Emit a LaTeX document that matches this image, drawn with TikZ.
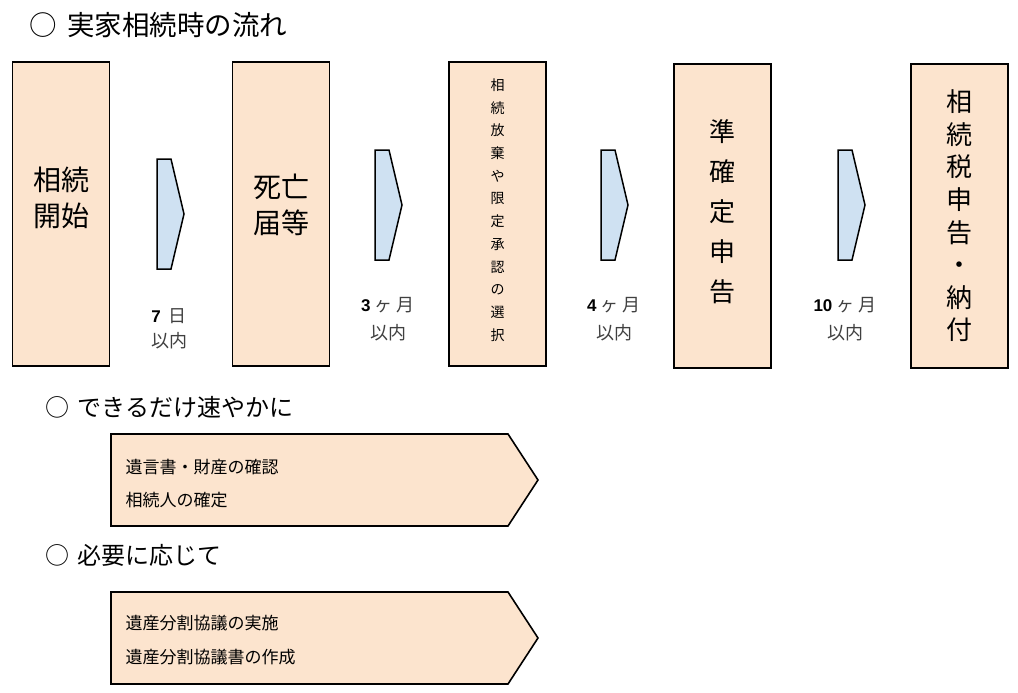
\documentclass[tikz,border=0pt]{standalone}
\usepackage{fontspec}
\setmainfont{Liberation Sans}
\newfontfamily\jp{Noto Sans CJK JP}
\usetikzlibrary{positioning}

\definecolor{peach}{HTML}{FCE4CE}
\definecolor{paleblue}{HTML}{CFE1F2}

\tikzset{
    stage/.style={draw, line width=1.6pt, fill=peach, minimum width=97pt, minimum height=304pt, inner sep=0pt},
    bigtxt/.style={font=\jp\fontsize{28}{36}\selectfont, align=center},
    tallTxt/.style={font=\jp\fontsize{26}{34}\selectfont, align=center},
    smalltxt/.style={font=\jp\fontsize{14}{22.7}\selectfont, align=center},
    period/.style={font=\jp\fontsize{18}{28}\selectfont, align=center, text=black!75},
    heading/.style={font=\jp\fontsize{24}{26}\selectfont, anchor=west},
    todo/.style={draw, line width=1.6pt, fill=peach},
    todotxt/.style={font=\jp\fontsize{17}{20}\selectfont, anchor=west},
    wait/.style={draw, line width=1.5pt, fill=paleblue}
}
\newcommand{\num}[1]{{\fontspec{Liberation Sans}\fontsize{17}{20}\selectfont\bfseries\color{black}#1}}

\begin{document}
\begin{tikzpicture}[x=1pt, y=-1pt]
    \useasboundingbox (0,0) rectangle (1018,693);
    % Title
    \node[heading, font=\jp\fontsize{27.5}{30}\selectfont] (title) at (26,25) {○\kern 10pt 実家相続時の流れ};

    % Stage boxes
    \node[stage] (start) at (61,214) {};
    \node[stage] (death) at (281,214) {};
    \node[stage] (choice) at (497.5,214) {};
    \node[stage] (prefile) at (722.5,216) {};
    \node[stage] (taxfile) at (959.5,216) {};

    % Texts in the boxes
    \node[bigtxt] (starttxt) at (start) [yshift=16pt] {相続\\開始};
    \node[bigtxt] (deathtxt) at (death) [yshift=9pt] {死亡\\届等};
    \node[smalltxt] (choicetxt) at (choice) [yshift=4pt] {相\\続\\放\\棄\\や\\限\\定\\承\\認\\の\\選\\択};
    \node[tallTxt, font=\jp\fontsize{26}{40}\selectfont] (prefiletxt) at (prefile) [yshift=4pt] {準\\確\\定\\申\\告};
    \node[tallTxt, font=\jp\fontsize{26}{32.6}\selectfont] (taxfiletxt) at (taxfile) [yshift=0pt] {相\\続\\税\\申\\告\\・\\納\\付};

    % Arrows between the boxes
    \foreach \x/\y in {157/159, 375/150, 601/150, 838/150}
    {
        \draw[wait] (\x,\y) -- ++(14,0) -- ++(13,55) -- ++(-13,55) -- ++(-14,0) -- cycle;
    }

    % Time limits
    \node[period, font=\jp\fontsize{18}{25}\selectfont] (lim1) at (169,328.5) {\num{7}\kern 8pt 日\\以内};
    \node[period] (lim2) at (388,319) {\num{3} ヶ 月\\以内};
    \node[period] (lim3) at (614,319) {\num{4} ヶ 月\\以内};
    \node[period] (lim4) at (845,319) {\num{10} ヶ 月\\以内};

    % As soon as possible
    \node[heading] (asap) at (42,407) {○\kern 8pt できるだけ速やかに};
    \draw[todo] (111,434) -- (508,434) -- (538,480) -- (508,526) -- (111,526) -- cycle;
    \node[todotxt] (asap1) at (122,467) {遺言書・財産の確認};
    \node[todotxt] (asap2) at (122,500) {相続人の確定};

    % If needed
    \node[heading] (need) at (42,555) {○\kern 8pt 必要に応じて};
    \draw[todo] (111,592) -- (508,592) -- (538,638) -- (508,684) -- (111,684) -- cycle;
    \node[todotxt] (need1) at (122,623) {遺産分割協議の実施};
    \node[todotxt] (need2) at (122,657) {遺産分割協議書の作成};
\end{tikzpicture}
\end{document}
